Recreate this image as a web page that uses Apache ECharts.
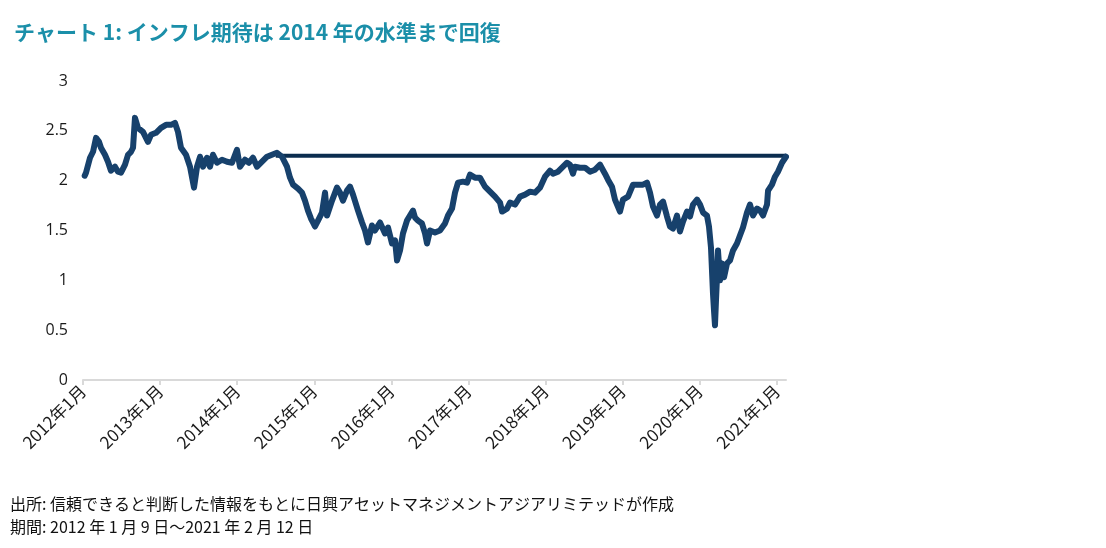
<!DOCTYPE html>
<html>
<head>
<meta charset="utf-8">
<script src="https://cdn.jsdelivr.net/npm/echarts@6/dist/echarts.min.js"></script>
<style>
html,body{margin:0;padding:0;background:#fff;}
#chart{width:1106px;height:548px;}
</style>
</head>
<body>
<div id="chart"></div>
<script>
var obsYear = [
2012.022,2012.039,2012.091,2012.130,2012.169,2012.208,2012.233,2012.285,2012.324,2012.363,
2012.415,2012.454,2012.493,2012.545,2012.584,2012.623,2012.649,2012.674,2012.713,2012.778,
2012.843,2012.882,2012.947,2013.012,2013.077,2013.141,2013.193,2013.232,2013.271,2013.336,
2013.388,2013.440,2013.479,2013.518,2013.556,2013.608,2013.647,2013.686,2013.738,2013.803,
2013.868,2013.933,2013.997,2014.036,2014.101,2014.153,2014.205,2014.257,2014.322,2014.387,
2014.451,2014.516,2014.581,2014.646,2014.685,2014.724,2014.789,2014.840,2014.879,2014.918,
2014.957,2014.983,2015.009,2015.048,2015.100,2015.139,2015.165,2015.230,2015.294,2015.333,
2015.372,2015.424,2015.463,2015.502,2015.567,2015.619,2015.658,2015.696,2015.748,2015.787,
2015.852,2015.917,2015.956,2016.008,2016.047,2016.073,2016.112,2016.150,2016.202,2016.241,
2016.280,2016.306,2016.345,2016.397,2016.436,2016.462,2016.501,2016.565,2016.630,2016.695,
2016.734,2016.786,2016.825,2016.864,2016.929,2016.981,2017.019,2017.084,2017.149,2017.214,
2017.279,2017.344,2017.409,2017.435,2017.499,2017.538,2017.603,2017.668,2017.733,2017.798,
2017.863,2017.927,2017.992,2018.057,2018.096,2018.161,2018.226,2018.278,2018.316,2018.355,
2018.381,2018.446,2018.511,2018.576,2018.641,2018.706,2018.770,2018.809,2018.861,2018.900,
2018.965,2019.004,2019.069,2019.134,2019.198,2019.263,2019.315,2019.354,2019.393,2019.445,
2019.484,2019.523,2019.575,2019.613,2019.652,2019.704,2019.743,2019.782,2019.834,2019.873,
2019.912,2019.964,2020.003,2020.042,2020.093,2020.119,2020.145,2020.158,2020.171,2020.184,
2020.197,2020.210,2020.223,2020.236,2020.262,2020.288,2020.314,2020.353,2020.392,2020.431,
2020.482,2020.521,2020.560,2020.612,2020.651,2020.690,2020.742,2020.781,2020.820,2020.872,
2020.885,2020.936,2020.975,2021.014,2021.066,2021.118
];
// Inflation expectation (%)
var inflExp = [
2.05,2.08,2.23,2.29,2.43,2.39,2.33,2.26,2.19,2.10,
2.14,2.09,2.08,2.16,2.26,2.29,2.33,2.63,2.53,2.49,
2.39,2.46,2.48,2.53,2.56,2.56,2.58,2.49,2.33,2.26,
2.14,1.93,2.14,2.24,2.14,2.23,2.14,2.26,2.18,2.21,
2.19,2.18,2.31,2.14,2.21,2.18,2.23,2.14,2.19,2.24,
2.26,2.28,2.24,2.14,2.03,1.96,1.92,1.88,1.80,1.70,
1.62,1.58,1.54,1.60,1.68,1.88,1.65,1.80,1.93,1.88,
1.80,1.90,1.94,1.86,1.70,1.58,1.50,1.38,1.55,1.50,
1.58,1.47,1.53,1.37,1.40,1.20,1.30,1.47,1.60,1.65,
1.70,1.63,1.60,1.57,1.47,1.37,1.50,1.48,1.50,1.57,
1.65,1.72,1.88,1.98,1.99,1.98,2.06,2.03,2.03,1.94,
1.89,1.84,1.78,1.69,1.72,1.78,1.76,1.84,1.86,1.89,
1.88,1.93,2.04,2.10,2.07,2.09,2.14,2.18,2.16,2.07,
2.14,2.13,2.13,2.09,2.11,2.16,2.07,2.01,1.94,1.81,
1.69,1.81,1.84,1.96,1.96,1.96,1.98,1.88,1.74,1.65,
1.76,1.79,1.64,1.54,1.52,1.65,1.49,1.59,1.69,1.64,
1.76,1.81,1.76,1.68,1.65,1.54,1.33,1.10,0.87,0.70,
0.55,0.80,1.03,1.30,1.00,1.17,1.03,1.17,1.20,1.30,
1.37,1.45,1.53,1.68,1.76,1.65,1.72,1.70,1.65,1.76,
1.90,1.96,2.04,2.09,2.18,2.24
];
// 2014 level reference line
var refYear = [2014.50, 2021.118];
var refLevel = [2.25, 2.25];
var yTicks = [0, 0.5, 1, 1.5, 2, 2.5, 3];

var mainData = obsYear.map(function(t,i){ return [t, inflExp[i]]; });
var refData = refYear.map(function(t,i){ return [t, refLevel[i]]; });

var chart = echarts.init(document.getElementById('chart'));
chart.setOption({
  animation: false,
  backgroundColor: '#ffffff',
  title: {
    text: 'チャート 1: インフレ期待は 2014 年の水準まで回復',
    left: 9, top: 17,
    textStyle: { color: '#1b8fa9', fontSize: 21, fontWeight: 'bold', fontFamily: '"Noto Sans CJK JP", sans-serif' }
  },
  grid: { left: 83, top: 81, width: 703, height: 299, containLabel: false },
  xAxis: {
    type: 'value',
    min: 2012, max: 2021.118, interval: 1,
    axisLine: { show: true, lineStyle: { color: '#d9d9d9', width: 2 } },
    axisTick: { show: true, length: 5, lineStyle: { color: '#d9d9d9', width: 2 } },
    splitLine: { show: false },
    axisLabel: {
      rotate: 45, margin: 8, color: '#1a1a1a', fontSize: 17,
      fontFamily: '"Noto Sans CJK JP", sans-serif',
      showMaxLabel: false,
      formatter: function(v){ return Math.round(v) + '年1月'; }
    }
  },
  yAxis: {
    type: 'value', min: 0, max: 3, interval: 0.5,
    axisLine: { show: false }, axisTick: { show: false },
    splitLine: { show: false },
    axisLabel: { color: '#1a1a1a', fontSize: 16, margin: 15, fontFamily: '"Open Sans", sans-serif',
      formatter: function(v){ return String(v); } }
  },
  series: [
    {
      type: 'line', data: refData, showSymbol: false, symbol: 'none',
      lineStyle: { color: '#0b2d4f', width: 4 }, z: 2
    },
    {
      type: 'line', data: mainData, showSymbol: false, symbol: 'none',
      lineStyle: { color: '#17416c', width: 6, join: 'round', cap: 'round' }, z: 3
    }
  ],
  graphic: [
    { type: 'text', left: 10, top: 496, style: { text: '出所: 信頼できると判断した情報をもとに日興アセットマネジメントアジアリミテッドが作成', fill: '#111', fontSize: 16, fontFamily: '"Noto Sans CJK JP", sans-serif' } },
    { type: 'text', left: 10, top: 519, style: { text: '期間: 2012 年 1 月 9 日～2021 年 2 月 12 日', fill: '#111', fontSize: 16, fontFamily: '"Noto Sans CJK JP", sans-serif' } }
  ]
});
</script>
</body>
</html>
